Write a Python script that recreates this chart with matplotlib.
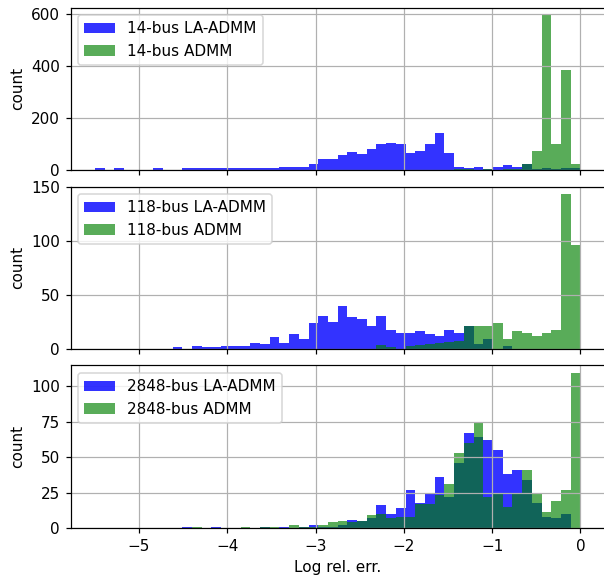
import numpy as np
from matplotlib import pyplot as plt

# 50 equal bins on log10 relative error
edges = np.linspace(-5.5, 0, 51)
centers = (edges[:-1] + edges[1:]) / 2

labels = ["14-bus", "118-bus", "2848-bus"]

la_admm_14 = [7, 0, 7, 0, 0, 0, 7, 0, 0, 7,
              7, 7, 7, 7, 7, 7, 7, 7, 7, 14,
              14, 14, 25, 44, 44, 57, 69, 62, 81, 99,
              105, 99, 68, 74, 99, 142, 68, 14, 7, 14,
              6, 14, 20, 14, 25, 4, 10, 5, 8, 10]
admm_14 = [0, 0, 0, 0, 0, 0, 0, 0, 0, 0,
           0, 0, 0, 0, 0, 0, 0, 0, 0, 0,
           0, 0, 0, 0, 0, 0, 0, 0, 0, 0,
           0, 0, 2, 0, 0, 0, 0, 3, 3, 2,
           3, 2, 3, 5, 25, 73, 596, 99, 384, 25]

la_admm_118 = [0, 0, 0, 0, 0, 0, 0, 0, 2, 0,
               3, 2, 2, 3, 3, 3, 6, 5, 11, 6,
               14, 9, 24, 31, 25, 40, 30, 28, 21, 31,
               18, 15, 15, 17, 14, 12, 18, 15, 21, 5,
               9, 0, 3, 0, 0, 0, 0, 0, 0, 0]
admm_118 = [0, 0, 0, 0, 0, 0, 0, 0, 0, 0,
            0, 0, 0, 0, 0, 0, 0, 0, 0, 0,
            0, 0, 0, 0, 0, 0, 0, 0, 0, 4,
            2, 0, 3, 4, 5, 6, 7, 8, 21, 21,
            21, 24, 9, 17, 15, 12, 15, 18, 143, 96]

la_admm_2848 = [0, 0, 0, 0, 0, 0, 0, 0, 0, 1,
                0, 0, 1, 0, 0, 0, 0, 1, 0, 1,
                0, 1, 2, 1, 1, 2, 6, 5, 7, 16,
                10, 14, 27, 18, 24, 36, 22, 46, 67, 64,
                62, 55, 38, 41, 34, 18, 8, 7, 10, 0]
admm_2848 = [0, 0, 0, 0, 0, 0, 0, 0, 0, 0,
             1, 0, 0, 0, 0, 1, 0, 1, 1, 0,
             2, 1, 1, 2, 4, 5, 4, 5, 9, 10,
             7, 8, 8, 17, 17, 23, 31, 53, 60, 75,
             22, 24, 15, 24, 41, 24, 11, 19, 27, 109]

la_admm = [la_admm_14, la_admm_118, la_admm_2848]
admm = [admm_14, admm_118, admm_2848]

fig, axes = plt.subplots(3, 1, sharex=True, figsize=(604 / 110, 581 / 110), dpi=110)
fig.subplots_adjust(left=0.117, right=1.001, top=0.987, bottom=0.091, hspace=0.10)

for ax, lab, b, g in zip(axes, labels, la_admm, admm):
    ax.hist(centers, bins=edges, weights=b, color="b", alpha=0.8,
            label=lab + " LA-ADMM")
    ax.hist(centers, bins=edges, weights=g, color="g", alpha=0.65,
            label=lab + " ADMM")
    ax.set_ylabel("count")
    ax.grid(True)
    ax.legend(loc="upper left")

axes[-1].set_xlabel("Log rel. err.")
plt.savefig("out.png", dpi=110)
